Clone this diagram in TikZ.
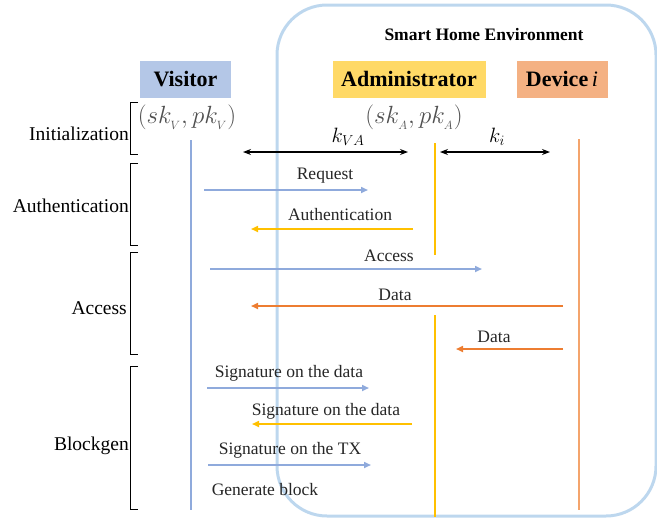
\documentclass[tikz,border=0pt]{standalone}
\usepackage[no-math]{fontspec}
\setmainfont{Liberation Serif}
\usetikzlibrary{arrows.meta}
\definecolor{envblue}{HTML}{BDD7EE}
\definecolor{visfill}{HTML}{B4C7E7}
\definecolor{admfill}{HTML}{FFD966}
\definecolor{devfill}{HTML}{F4B183}
\definecolor{visline}{HTML}{8FAADC}
\definecolor{admline}{HTML}{FFC000}
\definecolor{devline}{HTML}{F4A46C}
\definecolor{devarrow}{HTML}{ED7D31}
\definecolor{mathgray}{HTML}{505050}
\tikzset{
  hdr/.style={font=\fontsize{22}{24}\selectfont\bfseries, minimum height=37pt, inner sep=0pt, text=black},
  keypair/.style={font=\fontsize{23}{26}\selectfont, text=mathgray, inner sep=0pt},
  keylabel/.style={font=\fontsize{20}{24}\selectfont, inner sep=0pt},
  phase/.style={font=\fontsize{19.5}{22}\selectfont, anchor=east, inner sep=0pt},
  msg/.style={font=\fontsize{17.5}{20}\selectfont, inner sep=0pt, text=black!85},
  bracket/.style={draw=black, line width=1pt},
  life/.style={line width=2pt},
  keyarrow/.style={draw=black, line width=1.1pt, {Stealth[length=8pt,width=6pt]}-{Stealth[length=8pt,width=6pt]}},
  msgarrow/.style={line width=1.6pt, -{Triangle[length=7pt,width=6pt]}},
}
\begin{document}
\begin{tikzpicture}[x=1pt,y=-1pt]
\useasboundingbox (0,0) rectangle (657,523);
% environment
\draw[envblue, line width=3pt, rounded corners=50pt] (277,5) rectangle (656,516);
\node[font=\fontsize{17.5}{20}\selectfont\bfseries, inner sep=0pt] (env) at (484,35) {Smart Home Environment};
% headers
\node[hdr, fill=visfill, minimum width=91pt] (vis) at (185.5,79) {Visitor};
\node[hdr, fill=admfill, minimum width=153pt] (adm) at (409,79) {Administrator};
\node[hdr, fill=devfill, minimum width=91pt] (dev) at (562,79) {Device\,\normalfont\itshape i};
% key pairs
\node[keypair] (kpv) at (187,117) {$(sk_{_V},pk_{_V})$};
\node[keypair] (kpa) at (414,117) {$(sk_{_A},pk_{_A})$};
% lifelines
\coordinate (v1) at (190.5,140); \coordinate (v2) at (190.5,510);
\coordinate (a1) at (435,143); \coordinate (a2) at (435,255);
\coordinate (a3) at (435,315); \coordinate (a4) at (435,517);
\coordinate (d1) at (579,139); \coordinate (d2) at (579,510);
\draw[life, visline] (v1) -- (v2);
\draw[life, admline] (a1) -- (a2);
\draw[life, admline] (a3) -- (a4);
\draw[life, devline] (d1) -- (d2);
% key arrows
\coordinate (kva1) at (243,152); \coordinate (kva2) at (408,152);
\coordinate (ki1) at (440,152); \coordinate (ki2) at (550,152);
\draw[keyarrow] (kva1) -- (kva2);
\draw[keyarrow] (ki1) -- (ki2);
\node[keylabel] (kval) at (348,137) {$k_{VA}$};
\node[keylabel] (kil) at (497,137) {$k_{i}$};
% brackets
\draw[bracket] (138,102) -- (130,102) -- (130,154) -- (138,154);
\draw[bracket] (138,163) -- (130,163) -- (130,245) -- (138,245);
\draw[bracket] (138,252) -- (130,252) -- (130,354) -- (138,354);
\draw[bracket] (138,366) -- (130,366) -- (130,509) -- (138,509);
\node[phase] (pinit) at (129,134) {Initialization};
\node[phase] (pauth) at (129,206) {Authentication};
\node[phase] (pacc) at (127,308) {Access};
\node[phase] (pblk) at (129,446) {Blockgen};
% messages
\coordinate (r1) at (204,190); \coordinate (r2) at (368,190);
\draw[msgarrow, visline] (r1) -- (r2);
\node[msg] (lr) at (325,176) {Request};
\coordinate (au1) at (413,229); \coordinate (au2) at (251,229);
\draw[msgarrow, admline] (au1) -- (au2);
\node[msg] (lau) at (340,215) {Authentication};
\coordinate (ac1) at (210,269); \coordinate (ac2) at (482,269);
\draw[msgarrow, visline] (ac1) -- (ac2);
\node[msg] (lac) at (389,256) {Access};
\coordinate (da1) at (563,306); \coordinate (da2) at (251,306);
\draw[msgarrow, devarrow] (da1) -- (da2);
\node[msg] (lda) at (395,295) {Data};
\coordinate (db1) at (563,349); \coordinate (db2) at (456,349);
\draw[msgarrow, devarrow] (db1) -- (db2);
\node[msg] (ldb) at (494,337) {Data};
\coordinate (s1a) at (207,388); \coordinate (s1b) at (369,388);
\draw[msgarrow, visline] (s1a) -- (s1b);
\node[msg] (ls1) at (289,373) {Signature on the data};
\coordinate (s2a) at (412,424); \coordinate (s2b) at (252,424);
\draw[msgarrow, admline] (s2a) -- (s2b);
\node[msg] (ls2) at (326,411) {Signature on the data};
\coordinate (s3a) at (208,465); \coordinate (s3b) at (371,465);
\draw[msgarrow, visline] (s3a) -- (s3b);
\node[msg] (ls3) at (290,450) {Signature on the TX};
\node[msg] (lgen) at (265,490) {Generate block};
\end{tikzpicture}
\end{document}
